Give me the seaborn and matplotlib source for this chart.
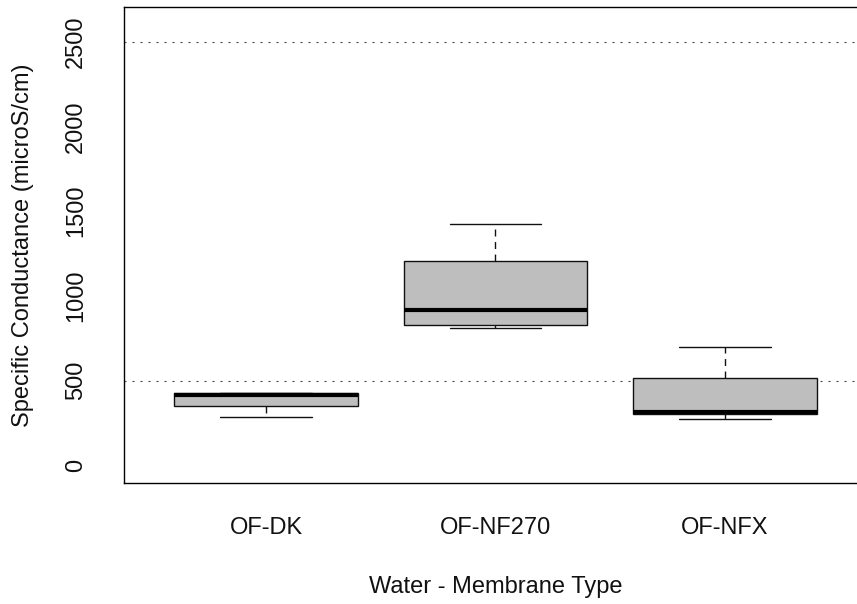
import matplotlib
matplotlib.use("Agg")
import matplotlib.pyplot as plt
import seaborn as sns
import pandas as pd

# Data (five-number summaries per group)
categories = ["OF-DK", "OF-NF270", "OF-NFX"]
of_dk = [283, 348, 418, 424, 424]
of_nf270 = [808, 830, 914, 1203, 1421]
of_nfx = [271, 304, 312, 513, 696]
ref_lines = [500, 2500]
y_ticks = [0, 500, 1000, 1500, 2000, 2500]

df = pd.DataFrame({
    "group": [categories[0]] * len(of_dk) + [categories[1]] * len(of_nf270) + [categories[2]] * len(of_nfx),
    "value": of_dk + of_nf270 + of_nfx,
})

sns.set_style("white")
plt.rcParams["font.family"] = ["Liberation Sans", "DejaVu Sans"]

fig = plt.figure(figsize=(8.57, 6.04), dpi=100)
W, H = 857, 604
left, right, top, bottom = 124, 867, 7, 483
ax = fig.add_axes([left / W, 1 - bottom / H, (right - left) / W, (bottom - top) / H])

for y in ref_lines:
    ax.axhline(y, color="#444444", lw=0.8, linestyle=(0, (1.8, 5.4)), zorder=0)

sns.boxplot(
    data=df, x="group", y="value", order=categories, ax=ax,
    color="#BEBEBE", saturation=1, width=0.8, linecolor="#111111", linewidth=1.0,
    showfliers=False,
    whiskerprops={"linestyle": (0, (5, 4)), "color": "#111111", "linewidth": 1.0},
    capprops={"color": "#111111", "linewidth": 1.0},
    medianprops={"color": "black", "linewidth": 3.0},
    boxprops={"zorder": 2},
)

ax.set_xlim(-0.62, 2.62)
ax.set_ylim(-104, 2704)
ax.set_yticks(y_ticks)
ax.set_yticklabels([str(t) for t in y_ticks], rotation=90, va="center")

for s in ax.spines.values():
    s.set_visible(True)
    s.set_color("black")
    s.set_linewidth(1.0)

ax.tick_params(axis="both", which="both", direction="out", length=10.5, width=1.0,
               color="black", labelsize=17, labelcolor="#111111")
ax.tick_params(axis="x", pad=14)
ax.tick_params(axis="y", pad=16)

ax.set_xlabel("Water - Membrane Type", fontsize=17, color="#111111")
ax.set_ylabel("Specific Conductance (microS/cm)", fontsize=17, color="#111111")
ax.xaxis.set_label_coords(0.5 * (266 + 725 - 2 * left) / (right - left) if False else (496 - left) / (right - left), -(576 - bottom) / (bottom - top))
ax.yaxis.set_label_coords(-(left - 34) / (right - left), 0.5)

fig.savefig("out.png", dpi=100)
